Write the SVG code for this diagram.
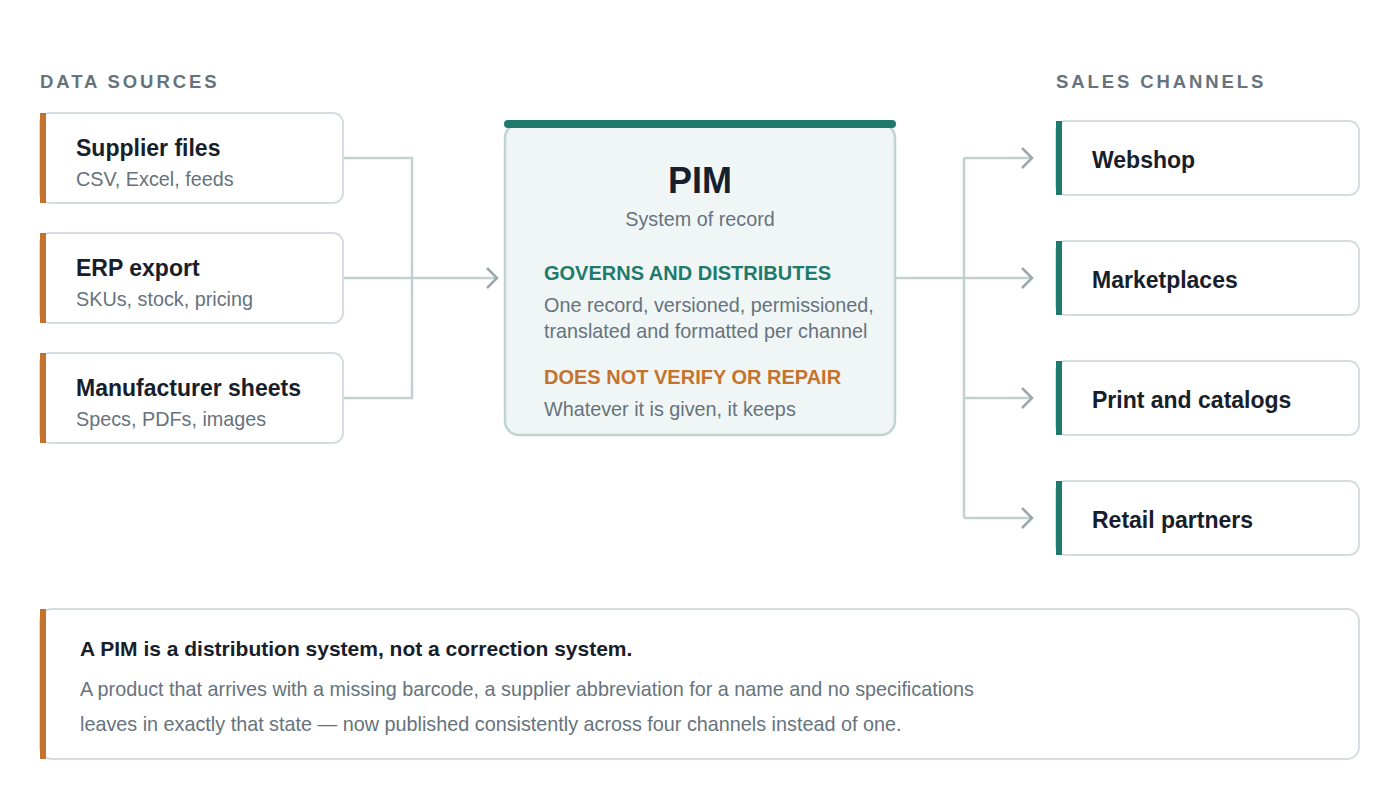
<svg xmlns="http://www.w3.org/2000/svg" width="1400" height="800" viewBox="0 0 1400 800">
<style>
text{font-family:"Liberation Sans",Arial,sans-serif}
.card{fill:#fff;stroke:#d5dde0;stroke-width:2}
.t{font-size:23px;font-weight:bold;fill:#17202a}
.s{font-size:19.8px;fill:#66737d}
.hd{font-size:18.5px;font-weight:bold;letter-spacing:2.9px;fill:#66737d}
.ln{fill:none;stroke:#c3d2d0;stroke-width:2.5}
.ar{fill:none;stroke:#9aa8ad;stroke-width:2.5}
</style>
<rect width="1400" height="800" fill="#fff"/>
<text class="hd" x="40" y="88">DATA SOURCES</text>
<text class="hd" x="1056" y="88">SALES CHANNELS</text>
<g id="connectors">
<path class="ln" d="M343 158H412V398H343M343 278H495"/>
<path class="ar" d="M487 268L497 278L487 288"/>
<path class="ln" d="M895 278H1030M964 158V518M964 158H1030M964 398H1030M964 518H1030"/>
<path class="ar" d="M1022 148L1032 158L1022 168M1022 268L1032 278L1022 288M1022 388L1032 398L1022 408M1022 508L1032 518L1022 528"/>
</g>
<g id="src1"><rect class="card" x="40" y="113" width="303" height="90" rx="10"/><rect x="40" y="113" width="6" height="90" fill="#c4732e"/>
<text class="t" x="76" y="156">Supplier files</text><text class="s" x="76" y="186">CSV, Excel, feeds</text></g>
<g id="src2"><rect class="card" x="40" y="233" width="303" height="90" rx="10"/><rect x="40" y="233" width="6" height="90" fill="#c4732e"/>
<text class="t" x="76" y="276">ERP export</text><text class="s" x="76" y="306">SKUs, stock, pricing</text></g>
<g id="src3"><rect class="card" x="40" y="353" width="303" height="90" rx="10"/><rect x="40" y="353" width="6" height="90" fill="#c4732e"/>
<text class="t" x="76" y="396">Manufacturer sheets</text><text class="s" x="76" y="426">Specs, PDFs, images</text></g>
<g id="pim">
<rect x="505" y="124" width="390" height="311" rx="14" fill="#f0f6f5" stroke="#bfd5d0" stroke-width="2.5"/>
<rect x="504" y="120" width="392" height="8" rx="4" fill="#1f7a6d"/>
<text x="700" y="193" text-anchor="middle" font-size="36" font-weight="bold" fill="#17202a">PIM</text>
<text x="700" y="226" text-anchor="middle" class="s" font-size="21">System of record</text>
<text x="544" y="280" font-size="20" font-weight="bold" fill="#1f7a6d">GOVERNS AND DISTRIBUTES</text>
<text class="s" x="544" y="312">One record, versioned, permissioned,</text>
<text class="s" x="544" y="338">translated and formatted per channel</text>
<text x="544" y="384" font-size="20" font-weight="bold" fill="#c4732e">DOES NOT VERIFY OR REPAIR</text>
<text class="s" x="544" y="416">Whatever it is given, it keeps</text>
</g>
<g id="ch1"><rect class="card" x="1056" y="121" width="303" height="74" rx="10"/><rect x="1056" y="121" width="6" height="74" fill="#1f7a6d"/><text class="t" x="1092" y="168">Webshop</text></g>
<g id="ch2"><rect class="card" x="1056" y="241" width="303" height="74" rx="10"/><rect x="1056" y="241" width="6" height="74" fill="#1f7a6d"/><text class="t" x="1092" y="288">Marketplaces</text></g>
<g id="ch3"><rect class="card" x="1056" y="361" width="303" height="74" rx="10"/><rect x="1056" y="361" width="6" height="74" fill="#1f7a6d"/><text class="t" x="1092" y="408">Print and catalogs</text></g>
<g id="ch4"><rect class="card" x="1056" y="481" width="303" height="74" rx="10"/><rect x="1056" y="481" width="6" height="74" fill="#1f7a6d"/><text class="t" x="1092" y="528">Retail partners</text></g>
<g id="note"><rect class="card" x="40" y="609" width="1319" height="150" rx="12"/><rect x="40" y="609" width="6" height="150" fill="#c4732e"/>
<text x="80" y="656" font-size="21" font-weight="bold" fill="#17202a">A PIM is a distribution system, not a correction system.</text>
<text class="s" x="80" y="696" font-size="21">A product that arrives with a missing barcode, a supplier abbreviation for a name and no specifications</text>
<text class="s" x="80" y="731" font-size="21">leaves in exactly that state — now published consistently across four channels instead of one.</text></g>
</svg>
